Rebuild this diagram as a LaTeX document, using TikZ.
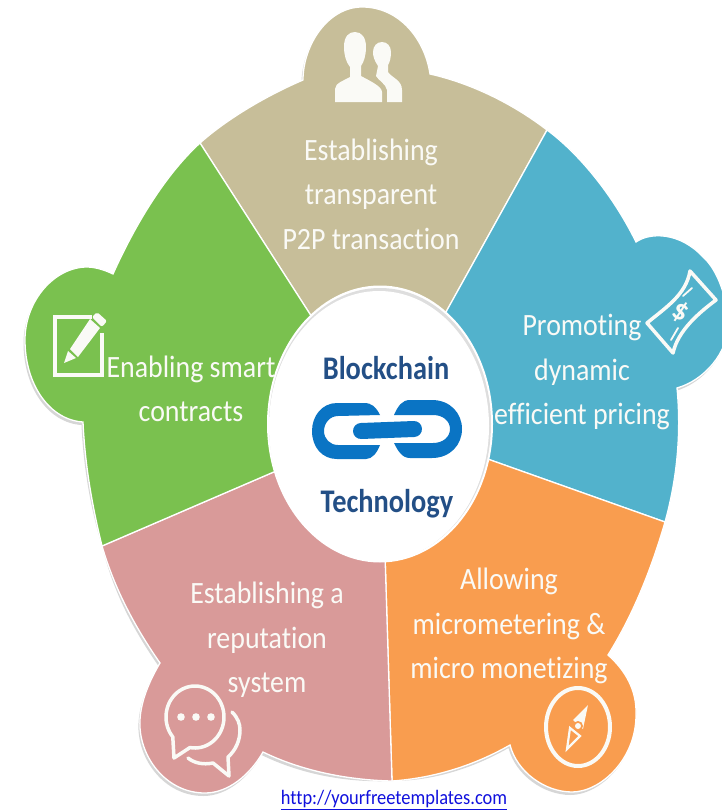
\documentclass[tikz,border=0pt]{standalone}
\usepackage{fontspec}
\setmainfont{Carlito}
\newfontfamily\tallfont[FakeStretch=0.9,RawFeature=-liga]{Carlito}
\newfontfamily\hubfont[FakeStretch=0.86,RawFeature=-liga]{Carlito}
\usepackage{xcolor}
\usetikzlibrary{shapes.geometric}
\definecolor{beigefill}{HTML}{C7BE99}
\definecolor{bluefill}{HTML}{52B2CC}
\definecolor{orangefill}{HTML}{F99D4F}
\definecolor{pinkfill}{HTML}{D99A99}
\definecolor{greenfill}{HTML}{7AC14F}
\definecolor{hubtext}{HTML}{234F86}
\definecolor{chainblue}{HTML}{0A74C4}
\definecolor{labelwhite}{HTML}{FAFAF6}
\definecolor{linkblue}{HTML}{1010DD}
\newcommand{\pathbeige}{(beigegreen) .. controls (228,118) and (268,95) .. (303,80) .. controls (303,45) and (328,7) .. (362,7) .. controls (400,7) and (425,40) .. (430,74) .. controls (470,83) and (512,103) .. (beigeblue) -- (innerbeigeblue) -- (hubcentre) -- (innerbeigegreen) -- cycle}
\newcommand{\pathblue}{(beigeblue) .. controls (577,152) and (612,193) .. (636,242) .. controls (650,232) and (680,232) .. (703,257) .. controls (718,270) and (728,300) .. (728,325) .. controls (728,352) and (705,380) .. (677,388) .. controls (681,430) and (678,475) .. (blueorange) -- (innerblueorange) -- (hubcentre) -- (innerbeigeblue) -- cycle}
\newcommand{\pathorange}{(blueorange) .. controls (651,570) and (633,615) .. (608,655) .. controls (625,670) and (637,690) .. (636,715) .. controls (636,760) and (600,792) .. (572,792) .. controls (545,792) and (517,772) .. (510,745) .. controls (475,765) and (435,778) .. (orangepink) -- (innerorangepink) -- (hubcentre) -- (innerblueorange) -- cycle}
\newcommand{\pathpink}{(orangepink) .. controls (345,780) and (300,770) .. (263,752) .. controls (250,775) and (228,793) .. (205,793) .. controls (165,793) and (138,755) .. (140,720) .. controls (141,700) and (150,680) .. (160,663) .. controls (135,627) and (115,590) .. (pinkgreen) -- (innerpinkgreen) -- (hubcentre) -- (innerorangepink) -- cycle}
\newcommand{\pathgreen}{(pinkgreen) .. controls (92,505) and (85,465) .. (83,422) .. controls (50,420) and (25,385) .. (25,340) .. controls (25,300) and (55,267) .. (87,267) .. controls (95,267) and (105,270) .. (113,274) .. controls (135,225) and (165,175) .. (beigegreen) -- (innerbeigegreen) -- (hubcentre) -- (innerpinkgreen) -- cycle}

\begin{document}
\begin{tikzpicture}[x=1pt,y=-1pt,
            sector/.style={fill=#1,draw=white,line width=1.3pt,line join=miter},
            sectorshadow/.style={fill=black!16,shift={(-1.5,3)}},
            sectorlabel/.style={text=labelwhite,align=center,inner sep=0pt,font=\tallfont\fontsize{31}{44.5}\selectfont},
            hublabel/.style={text=hubtext,inner sep=0pt,font=\hubfont\fontsize{33}{36}\selectfont\bfseries},
            hubdisc/.style={ellipse,inner sep=0pt,fill=#1},
            iconline/.style={draw=labelwhite,line width=3.5pt,line join=round,line cap=round},
            iconfill/.style={fill=labelwhite}]

            \clip (0,0) rectangle (722,811);

            \coordinate (hubcentre) at (380,424);
            \coordinate (beigegreen) at (200,143);
            \coordinate (beigeblue) at (547,130);
            \coordinate (blueorange) at (665,522);
            \coordinate (orangepink) at (392,781);
            \coordinate (pinkgreen) at (102,546);
            \coordinate (innerbeigegreen) at (317,325);
            \coordinate (innerbeigeblue) at (441,321);
            \coordinate (innerblueorange) at (482,457);
            \coordinate (innerorangepink) at (385,555);
            \coordinate (innerpinkgreen) at (283,468);

            \foreach \sectorpath in {\pathbeige,\pathblue,\pathorange,\pathpink,\pathgreen}
               \fill[sectorshadow] \sectorpath;

            \draw[sector=beigefill] \pathbeige;
            \draw[sector=bluefill] \pathblue;
            \draw[sector=orangefill] \pathorange;
            \draw[sector=pinkfill] \pathpink;
            \draw[sector=greenfill] \pathgreen;

            \node (hubouter) [hubdisc=white,minimum width=226pt,minimum height=277pt] at (380,424) {};
            \node (hubring) [hubdisc=black!13,minimum width=222pt,minimum height=272pt] at (380,424) {};
            \node (hubinner) [hubdisc=white,minimum width=220pt,minimum height=270pt] at (379,426) {};

            \node (blockchain) [hublabel] at (386,368) {Blockchain};
            \node (technology) [hublabel] at (387,504) {Technology};

            \fill[chainblue] (380,415) .. controls (376,407) and (372,403) .. (364,403) -- (337,403) .. controls (322,403) and (312,416) .. (312,431) .. controls (312,447) and (322,459) .. (337,459) -- (366,459) .. controls (372,459) and (377,453) .. (380,445) -- (338,445) .. controls (330,445) and (324,439) .. (324,431) .. controls (324,423) and (330,416) .. (338,416) -- cycle;
            \fill[chainblue] (394,415) .. controls (398,406) and (402,400) .. (410,400) -- (432,400) .. controls (450,400) and (462,413) .. (462,429) .. controls (462,445) and (450,458) .. (432,458) -- (410,458) .. controls (402,458) and (398,451) .. (394,443) -- (433,443) .. controls (443,443) and (450,437) .. (450,429) .. controls (450,421) and (443,415) .. (433,415) -- cycle;
            \draw[chainblue,line width=16pt,line cap=round] (361,431) -- (414,429);

            \node (transparent) [sectorlabel] at (371,194) {Establishing\\transparent\\P2P transaction};
            \node (pricing) [sectorlabel] at (582,372) {Promoting\\dynamic\\efficient pricing};
            \node (micrometering) [sectorlabel] at (509,626) {Allowing\\micrometering \&\\micro monetizing};
            \node (reputation) [sectorlabel] at (267,640) {Establishing a\\reputation\\system};
            \node (contracts) [sectorlabel] at (191,389) {Enabling smart\\contracts};

            \fill[iconfill] (335,102) -- (335,89) .. controls (335,83) and (345,80) .. (350,77) -- (350,67) .. controls (346,62) and (344,55) .. (344,47) .. controls (344,36) and (349,32) .. (355,32) .. controls (362,32) and (366,38) .. (366,47) .. controls (366,55) and (364,62) .. (361,66) -- (361,76) .. controls (368,80) and (382,86) .. (382,92) -- (382,102) -- cycle;
            \fill[iconfill] (387,102) -- (387,90) .. controls (386,84) and (378,80) .. (376,76) -- (378,66) .. controls (374,60) and (373,56) .. (373,52) .. controls (373,46) and (377,42) .. (382,42) .. controls (387,42) and (391,46) .. (391,52) .. controls (391,57) and (390,62) .. (388,65) -- (388,72) .. controls (392,78) and (402,80) .. (402,90) -- (402,102) -- cycle;

            \draw[iconline] (647,323) .. controls (665,308) and (686,295) .. (690,271) -- (716,300) .. controls (700,312) and (678,330) .. (673,353) -- cycle;
            \draw[iconline,line width=1.8pt] (683,296) -- (692,288) (671,340) -- (678,328);
            \node (dollar) [text=labelwhite,inner sep=0pt,rotate=-28,font=\fontsize{29}{29}\selectfont\bfseries] at (681,312) {\$};

            \draw[iconline,line width=4.5pt,line cap=butt,line join=miter] (92,317) -- (55,317) -- (55,375) -- (102,375) -- (102,333);
            \fill[iconfill] (64,363) -- (68,351) -- (76,358) -- cycle;
            \fill[iconfill] (70,349) -- (90,319) -- (100,328) -- (78,357) -- cycle;
            \fill[iconfill,rounded corners=2pt] (92,317) -- (97,312) -- (107,321) -- (102,327) -- cycle;

            \draw[iconline] plot[domain=100:-220,samples=60] ({195+29*cos(\x)},{717+31*sin(\x)}) -- (174,758) -- cycle;
            \foreach \dotx in {181,196,211}
               \fill[iconfill] (\dotx,717) circle (3.8);
            \draw[iconline] (232,712) .. controls (238,718) and (240,724) .. (240,730) .. controls (240,740) and (236,750) .. (228,757) -- (229,776) -- (213,763) .. controls (203,765) and (194,763) .. (188,758);

            \draw[iconline,line width=4pt] (578,727) ellipse (32 and 39);
            \fill[iconfill] (588,705) -- (573,720) -- (583,729) -- cycle;
            \draw[iconline,line width=2.2pt,line join=miter] (567,749) -- (570,728) -- (580,736) -- cycle;
            \fill[orangefill] (578,726) circle (5);
            \fill[iconfill] (578,726) circle (3);

            \node (weblink) [text=linkblue,inner sep=0pt,font=\tallfont\fontsize{20.5}{22}\selectfont] at (394,800) {\underline{http://yourfreetemplates.com}};
         \end{tikzpicture}
\end{document}
